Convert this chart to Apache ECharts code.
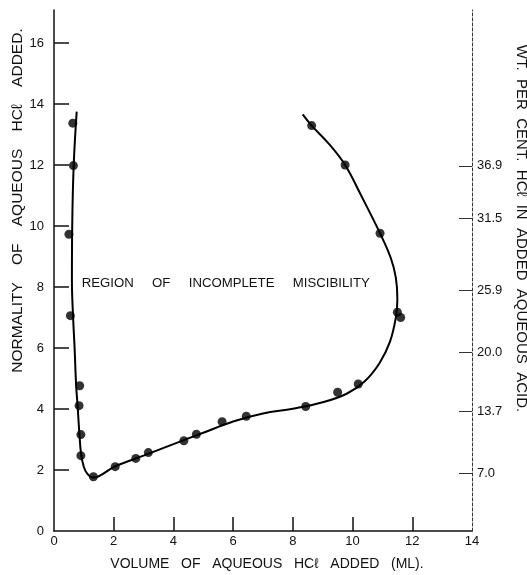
<!DOCTYPE html>
<html>
<head>
<meta charset="utf-8">
<script src="https://cdn.jsdelivr.net/npm/echarts@6/dist/echarts.min.js"></script>
<style>
html,body{margin:0;padding:0;background:#fff;}
#chart{width:527px;height:575px;}
</style>
</head>
<body>
<div id="chart"></div>
<script>
// Measured points: volume of aqueous HCl added (ml) vs normality
const pointVolume = [0.63, 0.65, 0.50, 0.55, 0.86, 0.84, 0.90, 0.90, 1.32, 2.05, 2.74, 3.16, 4.35, 4.77, 5.63, 6.44, 8.43, 9.50, 10.19, 11.50, 11.61, 10.92, 9.75, 8.63];
const pointNormality = [13.37, 11.98, 9.73, 7.06, 4.76, 4.11, 3.16, 2.47, 1.78, 2.11, 2.38, 2.57, 2.96, 3.17, 3.58, 3.76, 4.08, 4.55, 4.82, 7.17, 7.00, 9.76, 12.00, 13.29];

// Drawn boundary curve
const curveVolume = [0.76, 0.66, 0.61, 0.60, 0.64, 0.69, 0.74, 0.79, 0.85, 0.91, 1.00, 1.12, 1.30, 2.05, 3.00, 4.00, 5.00, 6.00, 7.00, 8.00, 9.00, 9.80, 10.40, 10.90, 11.25, 11.45, 11.50, 11.45, 11.28, 10.92, 10.25, 9.75, 9.20, 8.63, 8.33];
const curveNormality = [13.75, 12.00, 10.00, 8.20, 7.00, 6.00, 4.80, 4.10, 3.20, 2.50, 2.10, 1.87, 1.75, 2.12, 2.47, 2.85, 3.22, 3.59, 3.85, 4.01, 4.22, 4.50, 4.90, 5.50, 6.20, 7.00, 7.60, 8.30, 8.95, 9.76, 11.07, 12.00, 12.70, 13.29, 13.66];

// Axis ticks
const xTickValues = [0, 2, 4, 6, 8, 10, 12, 14];
const xInnerTicks = [2, 4, 6, 8, 10, 12];
const yTickValues = [0, 2, 4, 6, 8, 10, 12, 14, 16];
const yInnerTicks = [2, 4, 6, 8, 10, 12, 14, 16];
// Right axis: weight per cent HCl, placed at their normality positions
const rightTickNormality = [1.90, 3.93, 5.87, 7.90, 10.26, 11.97];
const rightTickLabels = ['7.0', '13.7', '20.0', '25.9', '31.5', '36.9'];

const regionText = 'REGION     OF     INCOMPLETE     MISCIBILITY';
const regionAt = [0.93, 8.13];

const FONT = '"Liberation Sans", Arial, sans-serif';

const points = pointVolume.map((v, i) => [v, pointNormality[i]]);
const curve = curveVolume.map((v, i) => [v, curveNormality[i]]);

const chart = echarts.init(document.getElementById('chart'));
const yMax = 17.08;
chart.setOption({
  animation: false,
  backgroundColor: '#fff',
  grid: { left: 54, right: 55, top: 10, bottom: 44, containLabel: false, outerBoundsMode: 'none' },
  xAxis: {
    type: 'value', min: 0, max: 14,
    name: 'VOLUME   OF   AQUEOUS   HCℓ   ADDED   (ML).',
    nameLocation: 'middle', nameGap: 26,
    nameTextStyle: { fontFamily: FONT, fontSize: 14, color: '#111', padding: [0, 0, 0, 8] },
    axisLine: { show: true, lineStyle: { color: '#111', width: 1.5 } },
    axisTick: { show: true, inside: true, length: 14, customValues: xInnerTicks, lineStyle: { color: '#111', width: 1.5 } },
    axisLabel: { customValues: xTickValues, fontFamily: FONT, fontSize: 13, color: '#111', margin: 4 },
    splitLine: { show: false }
  },
  yAxis: [{
    type: 'value', min: 0, max: yMax, position: 'left',
    name: 'NORMALITY    OF    AQUEOUS    HCℓ    ADDED.',
    nameLocation: 'middle', nameGap: 28, nameMoveOverlap: false,
    nameTextStyle: { fontFamily: FONT, fontSize: 15.5, color: '#111', padding: [0, 0, 0, 140] },
    axisLine: { show: true, lineStyle: { color: '#111', width: 1.5 } },
    axisTick: { show: true, inside: true, length: 15, customValues: yInnerTicks, lineStyle: { color: '#111', width: 1.5 } },
    axisLabel: { customValues: yTickValues, fontFamily: FONT, fontSize: 13, color: '#111', margin: 10 },
    splitLine: { show: false }
  }, {
    type: 'value', min: 0, max: yMax, position: 'right',
    name: 'WT.  PER  CENT.  HCℓ  IN  ADDED  AQUEOUS  ACID.',
    nameLocation: 'middle', nameGap: 41, nameRotate: -90,
    nameTextStyle: { fontFamily: FONT, fontSize: 15, color: '#111', padding: [0, 84, 0, 0] },
    axisLine: { show: true, lineStyle: { color: '#333', width: 1, type: [3, 2] } },
    axisTick: { show: true, inside: true, length: 13, customValues: rightTickNormality, lineStyle: { color: '#333', width: 1 } },
    axisLabel: {
      customValues: rightTickNormality, fontFamily: FONT, fontSize: 13, color: '#111', margin: 5,
      formatter: function (v) {
        for (let i = 0; i < rightTickNormality.length; i++) {
          if (Math.abs(v - rightTickNormality[i]) < 1e-6) return rightTickLabels[i];
        }
        return '';
      }
    },
    splitLine: { show: false }
  }],
  series: [{
    type: 'line', data: curve, smooth: 0.4, symbol: 'none',
    lineStyle: { color: '#000', width: 2 }, z: 2
  }, {
    type: 'scatter', data: points, symbol: 'circle', symbolSize: 9,
    itemStyle: { color: '#000' }, z: 3,
    markPoint: {
      symbol: 'circle', symbolSize: 0,
      data: [{ coord: regionAt, value: regionText }],
      label: { show: true, position: 'right', distance: 0, formatter: regionText, fontFamily: FONT, fontSize: 13.2, color: '#111' }
    }
  }]
});
</script>
</body>
</html>
